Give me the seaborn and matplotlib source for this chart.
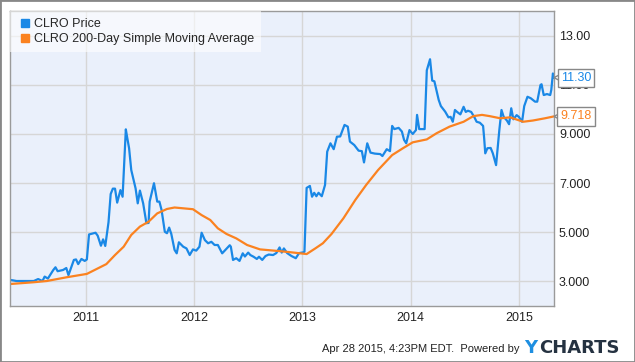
import pandas as pd
import seaborn as sns
import matplotlib.pyplot as plt
from matplotlib.lines import Line2D
from matplotlib.patches import Rectangle, Polygon

# CLRO price (decimal year, price)
price_t = [2010.31, 2010.36, 2010.52, 2010.56, 2010.60, 2010.62, 2010.65, 2010.70, 2010.72, 2010.74,
           2010.79, 2010.82, 2010.84, 2010.89, 2010.91, 2010.93, 2010.96, 2010.99, 2011.01, 2011.03,
           2011.09, 2011.11, 2011.14, 2011.16, 2011.18, 2011.21, 2011.23, 2011.25, 2011.27, 2011.29,
           2011.32, 2011.34, 2011.37, 2011.38, 2011.40, 2011.42, 2011.46, 2011.48, 2011.50, 2011.53,
           2011.56, 2011.58, 2011.59, 2011.63, 2011.66, 2011.68, 2011.70, 2011.73, 2011.75, 2011.77,
           2011.79, 2011.82, 2011.84, 2011.86, 2011.90, 2011.93, 2011.96, 2011.99, 2012.02, 2012.05,
           2012.07, 2012.10, 2012.13, 2012.16, 2012.19, 2012.22, 2012.26, 2012.29, 2012.33, 2012.34,
           2012.36, 2012.39, 2012.42, 2012.45, 2012.47, 2012.50, 2012.52, 2012.55, 2012.58, 2012.60,
           2012.63, 2012.66, 2012.69, 2012.73, 2012.76, 2012.79, 2012.81, 2012.83, 2012.86, 2012.90,
           2012.94, 2012.97, 2013.01, 2013.02, 2013.04, 2013.07, 2013.09, 2013.11, 2013.13, 2013.15,
           2013.18, 2013.21, 2013.23, 2013.26, 2013.29, 2013.32, 2013.35, 2013.39, 2013.42, 2013.44,
           2013.48, 2013.52, 2013.55, 2013.57, 2013.60, 2013.63, 2013.67, 2013.72, 2013.74, 2013.78,
           2013.81, 2013.83, 2013.85, 2013.89, 2013.92, 2013.94, 2013.96, 2013.99, 2014.02, 2014.05,
           2014.06, 2014.08, 2014.13, 2014.15, 2014.18, 2014.20, 2014.22, 2014.26, 2014.28, 2014.32,
           2014.35, 2014.37, 2014.39, 2014.41, 2014.43, 2014.46, 2014.49, 2014.51, 2014.53, 2014.56,
           2014.59, 2014.61, 2014.64, 2014.67, 2014.68, 2014.69, 2014.71, 2014.74, 2014.76, 2014.79,
           2014.80, 2014.82, 2014.84, 2014.86, 2014.89, 2014.91, 2014.93, 2014.95, 2014.98, 2015.00,
           2015.03, 2015.05, 2015.08, 2015.11, 2015.15, 2015.17, 2015.20, 2015.21, 2015.23, 2015.26,
           2015.29, 2015.30, 2015.315, 2015.324]
price_v = [3.04, 3.00, 3.00, 3.08, 3.00, 3.18, 3.10, 3.45, 3.56, 3.40,
           3.45, 3.53, 3.24, 3.86, 3.88, 3.69, 3.90, 3.82, 3.88, 4.90,
           4.97, 4.85, 4.44, 4.70, 4.43, 5.40, 6.55, 6.77, 6.77, 6.20,
           6.71, 6.44, 9.19, 8.92, 8.42, 7.53, 6.78, 6.17, 6.69, 6.17,
           5.36, 5.37, 6.24, 6.99, 6.24, 6.24, 5.90, 5.01, 4.95, 5.18,
           4.92, 4.27, 4.13, 4.58, 4.40, 4.33, 4.06, 4.29, 4.24, 4.40,
           4.97, 4.67, 4.54, 4.60, 4.47, 4.47, 4.13, 4.27, 4.46, 4.40,
           3.86, 3.93, 3.82, 4.13, 4.00, 4.16, 4.06, 3.99, 3.90, 3.99,
           3.86, 4.02, 4.08, 4.06, 4.14, 4.37, 4.16, 4.33, 4.14, 4.02,
           3.93, 4.14, 4.17, 4.20, 6.80, 6.88, 6.44, 6.60, 6.46, 6.60,
           6.46, 6.92, 8.28, 8.62, 8.38, 8.89, 8.90, 9.37, 9.30, 8.69,
           8.55, 8.32, 8.30, 7.84, 8.62, 8.24, 8.20, 8.18, 8.10, 8.38,
           8.30, 9.33, 9.20, 9.25, 9.10, 8.76, 8.62, 9.16, 9.00, 9.16,
           9.78, 9.20, 9.20, 11.60, 12.05, 11.18, 11.15, 10.39, 10.14, 9.91,
           9.68, 9.70, 9.50, 9.98, 9.90, 9.80, 10.11, 9.90, 9.95, 9.90,
           9.68, 9.50, 9.46, 9.33, 8.82, 8.21, 8.42, 8.43, 8.21, 7.73,
           8.21, 9.16, 9.98, 9.70, 9.55, 9.40, 10.05, 9.60, 9.77, 9.70,
           9.50, 10.14, 10.52, 10.46, 10.32, 10.32, 11.00, 11.03, 10.59, 10.63,
           10.59, 10.80, 11.47, 11.30]

# CLRO 200-day simple moving average
sma_t = [2010.31, 2010.52, 2010.64, 2010.82, 2011.01, 2011.10, 2011.19, 2011.27, 2011.35, 2011.42,
         2011.50, 2011.58, 2011.66, 2011.75, 2011.82, 2011.99, 2012.07, 2012.15, 2012.22, 2012.30,
         2012.39, 2012.49, 2012.61, 2012.79, 2012.92, 2013.04, 2013.12, 2013.19, 2013.27, 2013.38,
         2013.49, 2013.59, 2013.70, 2013.83, 2013.93, 2014.02, 2014.15, 2014.24, 2014.36, 2014.49,
         2014.58, 2014.66, 2014.73, 2014.83, 2014.92, 2015.04, 2015.13, 2015.24, 2015.324]
sma_v = [2.88, 2.95, 3.00, 3.15, 3.29, 3.49, 3.69, 4.06, 4.40, 4.88,
         5.22, 5.42, 5.76, 5.94, 6.00, 5.93, 5.69, 5.49, 5.15, 4.92,
         4.74, 4.47, 4.29, 4.22, 4.16, 4.10, 4.33, 4.54, 4.92, 5.56,
         6.31, 6.92, 7.53, 8.14, 8.42, 8.66, 8.78, 9.03, 9.30, 9.50,
         9.73, 9.78, 9.73, 9.64, 9.68, 9.50, 9.55, 9.64, 9.718]

series_names = ['CLRO Price', 'CLRO 200-Day Simple Moving Average']
year_ticks = [2011, 2012, 2013, 2014, 2015]
year_labels = ['2011', '2012', '2013', '2014', '2015']
value_ticks = [3, 5, 7, 9, 11, 13]
value_labels = ['3.000', '5.000', '7.000', '9.000', '11.00', '13.00']

blue = '#1a88e6'
orange = '#fb8220'

sns.set_style('white')
plt.rcParams['font.family'] = ['Liberation Sans', 'DejaVu Sans']

fig = plt.figure(figsize=(6.35, 3.62), dpi=100)
ax = fig.add_axes([10 / 635, 56 / 362, 544 / 635, 295 / 362])

df_price = pd.DataFrame({'t': price_t, 'v': price_v})
df_sma = pd.DataFrame({'t': sma_t, 'v': sma_v})
sns.lineplot(data=df_price, x='t', y='v', color=blue, lw=1.6, estimator=None, ax=ax)
sns.lineplot(data=df_sma, x='t', y='v', color=orange, lw=1.6, estimator=None, ax=ax)

ax.set_facecolor('#eaf0fb')
ax.set_xticks(year_ticks, year_labels)
ax.set_yticks(value_ticks, value_labels)
ax.yaxis.tick_right()
ax.grid(True, color='#d6d6d6', lw=1)
ax.set_axisbelow(True)
ax.tick_params(length=0, labelsize=9, labelcolor='#222222')
ax.tick_params(axis='y', pad=3.6)
ax.tick_params(axis='x', pad=4.5)
for s in ax.spines.values():
    s.set_color('#9a9a9a')
    s.set_linewidth(1)
ax.set_xlabel('')
ax.set_ylabel('')

handles = [Line2D([], [], marker='s', ls='none', color=c, markersize=6) for c in (blue, orange)]
ax.legend(handles, series_names, loc='upper left', bbox_to_anchor=(0, 1), borderaxespad=0,
          frameon=True, fancybox=False, framealpha=0.6, edgecolor='none', facecolor='white',
          fontsize=9, handlelength=1.3, handletextpad=0.1, labelspacing=0.25, borderpad=0.55)

# last-value flags on the right axis
tr = ax.get_yaxis_transform()
for val, col, txt in [(price_v[-1], blue, f'{price_v[-1]:.2f}'), (sma_v[-1], orange, f'{sma_v[-1]:.3f}')]:
    ax.add_patch(Polygon([(1.0, val), (1.0 + 8 / 544, val + 0.17), (1.0 + 8 / 544, val - 0.17)],
                         closed=True, transform=tr, fc='white', ec='#888888', lw=1,
                         clip_on=False, zorder=5))
    ax.text(1.0 + 22 / 544, val, txt, transform=tr, ha='center', va='center', color=col,
            fontsize=9, zorder=6, clip_on=False,
            bbox=dict(boxstyle='square,pad=0.25', fc='white', ec='#888888', lw=1))

ax.set_xlim(2010.30, 2015.325)
ax.set_ylim(1.98, 14.02)

fig.text(520 / 635, 1 - 349 / 362, 'Apr 28 2015, 4:23PM EDT.  Powered by', ha='right',
         va='center', fontsize=8, color='#222222')
fig.text(524 / 635, 1 - 348 / 362, 'Y', ha='left', va='center', fontsize=13,
         fontweight='bold', family='DejaVu Sans', color='#1e8fe1')
fig.text(539 / 635, 1 - 348 / 362, 'CHARTS', ha='left', va='center', fontsize=13,
         fontweight='bold', family='DejaVu Sans', color='#253241')

fig.add_artist(Rectangle((0, 0), 1, 1, transform=fig.transFigure, fill=False,
                         ec='#888888', lw=2))

fig.savefig('out.png', dpi=100)
